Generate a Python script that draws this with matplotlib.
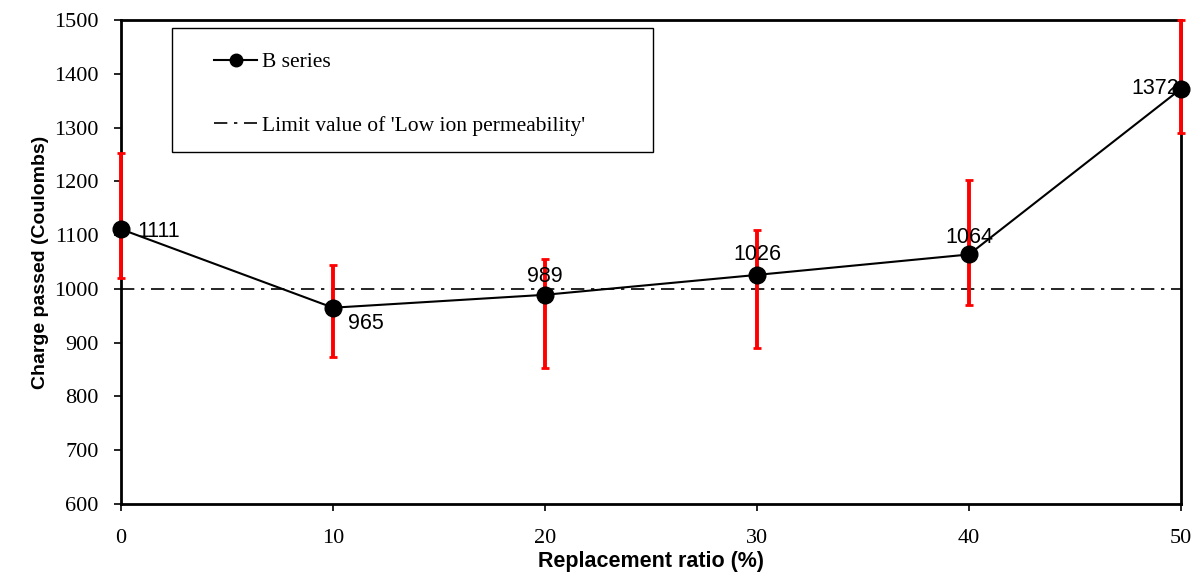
import matplotlib.pyplot as plt
from matplotlib.lines import Line2D
from matplotlib.patches import Rectangle

# data
ratio = [0, 10, 20, 30, 40, 50]
charge = [1111, 965, 989, 1026, 1064, 1372]
err_low = [1020, 873, 853, 890, 970, 1290]
err_high = [1253, 1044, 1056, 1110, 1202, 1500]
limit = 1000
yticks = [600, 700, 800, 900, 1000, 1100, 1200, 1300, 1400, 1500]
xticks = [0, 10, 20, 30, 40, 50]
label_offsets = [(12, -2), (24, -11.5), (0, 13), (0, 14.5), (0, 12.5), (-1, 0)]
label_ha = ['left', 'center', 'center', 'center', 'center', 'right']

serif = ['Liberation Serif', 'DejaVu Serif']
sans = ['Liberation Sans', 'DejaVu Sans']

fig = plt.figure(figsize=(12.03, 5.76), dpi=100)
ax = fig.add_axes([0.1006, 0.125, 0.8811, 0.8403])

ax.axhline(limit, color='black', lw=1.2, dashes=(8, 4, 2, 4), zorder=1)

yerr = [[c - lo for c, lo in zip(charge, err_low)],
        [hi - c for c, hi in zip(charge, err_high)]]
ax.errorbar(ratio, charge, yerr=yerr, fmt='none', ecolor='red', elinewidth=2.8,
            capsize=3, capthick=2, zorder=3, clip_on=False)
ax.plot(ratio, charge, color='black', lw=1.5, marker='o', ms=12, zorder=4,
        clip_on=False)

for x, y, off, ha in zip(ratio, charge, label_offsets, label_ha):
    ax.annotate(str(y), (x, y), xytext=off, textcoords='offset points',
                ha=ha, va='center', fontsize=15.5, family=sans, zorder=3.5)

ax.set_xlim(0, 50)
ax.set_ylim(600, 1500)
ax.set_xticks(xticks)
ax.set_yticks(yticks)
ax.tick_params(direction='out', length=5, width=1.2, labelsize=16)
ax.tick_params(axis='y', pad=11)
ax.tick_params(axis='x', pad=13)
for lab in ax.get_xticklabels() + ax.get_yticklabels():
    lab.set_family(serif)
for s in ax.spines.values():
    s.set_linewidth(2)

ax.set_xlabel('Replacement ratio (%)', fontsize=15.5, fontweight='bold', family=sans, labelpad=2)
ax.set_ylabel('Charge passed (Coulombs)', fontsize=14, fontweight='bold', family=sans, labelpad=4)

# legend frame
ax.add_patch(Rectangle((0.048, 0.727), 0.454, 0.256, transform=ax.transAxes,
                       fill=False, edgecolor='black', lw=1, zorder=5))
handles = [Line2D([], [], color='black', lw=1.5, marker='o', ms=9),
           Line2D([], [], color='black', lw=1.2, dashes=(8, 4, 2, 4))]
leg = ax.legend(handles, ['B series', "Limit value of 'Low ion permeability'"],
                loc='upper left', bbox_to_anchor=(0.088, 0.933),
                prop={'family': serif, 'size': 15.5}, frameon=False,
                handlelength=2.0, labelspacing=2.0, borderpad=0,
                handletextpad=0.2, borderaxespad=0)

fig.savefig('out.png', dpi=100)
